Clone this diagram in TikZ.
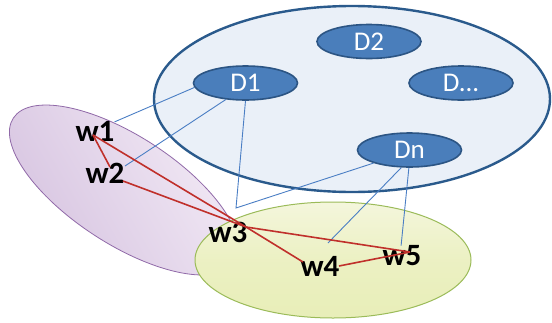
\documentclass[tikz,border=0pt]{standalone}
\usepackage{fontspec}
\setmainfont{Carlito}
\usetikzlibrary{shapes.geometric}
\definecolor{bigfill}{HTML}{EAF0F8}
\definecolor{bigdraw}{HTML}{2A5A8C}
\definecolor{dfill}{HTML}{4A7EBB}
\definecolor{ddraw}{HTML}{2C5584}
\definecolor{linkblue}{HTML}{4A7EC4}
\definecolor{wred}{HTML}{C0302B}
\definecolor{purpA}{HTML}{F3EBF6}
\definecolor{purpB}{HTML}{D6C3E0}
\definecolor{purpdraw}{HTML}{9069A8}
\definecolor{greenA}{HTML}{F4F6DC}
\definecolor{greenB}{HTML}{E8EEB8}
\definecolor{greendraw}{HTML}{9BBB59}
\tikzset{
  dnode/.style={ellipse, fill=dfill, draw=ddraw, line width=1.6pt, minimum width=104pt, minimum height=34pt, inner sep=0pt, text=white, font=\fontsize{27}{27}\selectfont},
  wlabel/.style={inner sep=0pt, text=black, font=\bfseries\fontsize{31}{31}\selectfont},
  link/.style={draw=linkblue, line width=0.9pt},
  wlink/.style={draw=wred, line width=1.6pt},
}
\begin{document}
\begin{tikzpicture}[x=1pt,y=-1pt]
\useasboundingbox (0,0) rectangle (552,322);
% purple ellipse
\path[draw=purpdraw, line width=0.8pt, top color=purpA, bottom color=purpB, shading angle=-60, rotate around={-33:(124,190)}] (124,190) ellipse [x radius=132, y radius=54];
% big blue ellipse
\path[draw=bigdraw, line width=2.4pt, fill=bigfill] (352,99) ellipse [x radius=198, y radius=93];
% green ellipse
\path[draw=greendraw, line width=1pt, top color=greenA, bottom color=greenB, middle color=greenB!70!greenA] (333,260) ellipse [x radius=138, y radius=58];
% D nodes
\node[dnode] (D1) at (245.5,83) {D1};
\node[dnode] (D2) at (369,41.5) {D2};
\node[dnode] (Dd) at (461,83) {D...};
\node[dnode] (Dn) at (409.5,150) {Dn};
% w labels
\node[wlabel] (w1) at (95,131) {w1};
\node[wlabel] (w2) at (105,173) {w2};
\node[wlabel] (w3) at (228,232) {w3};
\node[wlabel] (w4) at (320,266) {w4};
\node[wlabel] (w5) at (402,256) {w5};
% anchor points
\coordinate (p1) at (93,135);
\coordinate (p2a) at (110,167);
\coordinate (p2b) at (123,181);
\coordinate (p3) at (246,227);
\coordinate (p4) at (303,262);
\coordinate (p4b) at (339,266);
\coordinate (p5) at (410,252);
\coordinate (bend) at (236,208);
\coordinate (d4) at (328,243);
% blue links
\path[link] (D1.185) -- (w1.25);
\path[link] (D1.220) -- (125,166);
\path[link] (D1.270) -- (bend) -- (Dn.200);
\path[link] (Dn.245) -- (d4);
\path[link] (Dn.268) -- (w5.95);
% red links
\path[wlink] (p1) -- (p2a);
\path[wlink] (p1) -- (p3);
\path[wlink] (p2b) -- (p3);
\path[wlink] (p3) -- (p5);
\path[wlink] (p3) -- (p4);
\path[wlink] (p4b) -- (p5);
\end{tikzpicture}
\end{document}
